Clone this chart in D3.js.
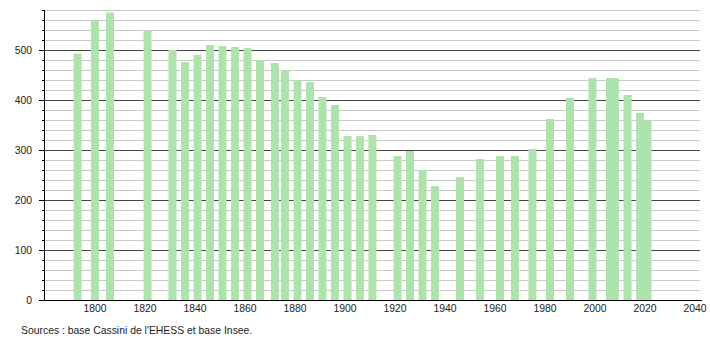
<!DOCTYPE html>
<html>
<head>
<meta charset="utf-8">
<script src="https://cdn.jsdelivr.net/npm/d3@7"></script>
<style>
  body { margin: 0; background: #fff; }
  svg text { font-family: "Liberation Sans", Arial, sans-serif; font-size: 10.4px; fill: #222; }
</style>
</head>
<body>
<svg id="chart"></svg>
<script>
// Population data
const years = [1793, 1800, 1806, 1821, 1831, 1836, 1841, 1846, 1851, 1856,
  1861, 1866, 1872, 1876, 1881, 1886, 1891, 1896, 1901, 1906,
  1911, 1921, 1926, 1931, 1936, 1946, 1954, 1962, 1968, 1975,
  1982, 1990, 1999, 2006, 2008, 2013, 2018, 2021];
const population = [493, 559, 575, 539, 500, 476, 490, 510, 508, 506,
  504, 479, 474, 459, 439, 436, 406, 390, 328, 328,
  330, 288, 298, 260, 228, 246, 282, 288, 288, 302,
  362, 404, 444, 444, 444, 410, 374, 360];
const xTicks = [1800, 1820, 1840, 1860, 1880, 1900, 1920, 1940, 1960, 1980, 2000, 2020, 2040];
const yTicks = [0, 100, 200, 300, 400, 500];
const sourceText = "Sources : base Cassini de l'EHESS et base Insee.";

const width = 710, height = 340;
const margin = {top: 10, right: 10, bottom: 40, left: 45};
const plotW = width - margin.left - margin.right;
const plotH = height - margin.top - margin.bottom;

const svg = d3.select('#chart')
    .attr('width', width)
    .attr('height', height);

const xScale = d3.scaleLinear()
    .domain([1780, 2042])
    .range([0, plotW]);

const yScale = d3.scaleLinear()
    .domain([0, 580])
    .range([plotH, 0]);

const chart = svg.append('g')
    .attr('transform', `translate(${margin.left},${margin.top})`);

// Minor grid lines every 20
const minor = d3.range(20, 581, 20).filter(v => v % 100 !== 0);
chart.append('g').selectAll('line')
    .data(minor)
  .join('line')
    .attr('x1', 0)
    .attr('x2', plotW)
    .attr('y1', d => Math.round(yScale(d)) + 0.5)
    .attr('y2', d => Math.round(yScale(d)) + 0.5)
    .attr('stroke', '#c8c8c8')
    .attr('stroke-width', 1);

// Major grid lines every 100
chart.append('g').selectAll('line')
    .data(yTicks.filter(v => v > 0))
  .join('line')
    .attr('x1', 0)
    .attr('x2', plotW)
    .attr('y1', d => Math.round(yScale(d)) + 0.5)
    .attr('y2', d => Math.round(yScale(d)) + 0.5)
    .attr('stroke', '#444')
    .attr('stroke-width', 1);

// Bars
const barW = 8;
chart.append('g').selectAll('rect')
    .data(years.map((y, i) => ({year: y, value: population[i]})))
  .join('rect')
    .attr('x', d => xScale(d.year) - barW / 2)
    .attr('y', d => yScale(d.value))
    .attr('width', barW)
    .attr('height', d => plotH - yScale(d.value))
    .attr('fill', '#aee3ae');

// Y axis: major ticks with labels, minor ticks
const yAxisG = chart.append('g');
yAxisG.append('line')
    .attr('x1', -0.5).attr('x2', -0.5)
    .attr('y1', 0).attr('y2', plotH)
    .attr('stroke', '#000');
yAxisG.selectAll('.minor-tick')
    .data(minor)
  .join('line')
    .attr('class', 'minor-tick')
    .attr('x1', -3).attr('x2', 0)
    .attr('y1', d => Math.round(yScale(d)) + 0.5)
    .attr('y2', d => Math.round(yScale(d)) + 0.5)
    .attr('stroke', '#000');
yAxisG.selectAll('.major-tick')
    .data(yTicks)
  .join('line')
    .attr('class', 'major-tick')
    .attr('x1', -6).attr('x2', 0)
    .attr('y1', d => Math.round(yScale(d)) + 0.5)
    .attr('y2', d => Math.round(yScale(d)) + 0.5)
    .attr('stroke', '#000');
yAxisG.selectAll('text')
    .data(yTicks)
  .join('text')
    .attr('x', -13)
    .attr('y', d => yScale(d))
    .attr('dy', '0.35em')
    .attr('text-anchor', 'end')
    .text(d => d);

// X axis baseline and labels
const xAxisG = chart.append('g')
    .attr('transform', `translate(0,${plotH})`);
xAxisG.append('line')
    .attr('x1', -3).attr('x2', plotW + 2)
    .attr('y1', 0.5).attr('y2', 0.5)
    .attr('stroke', '#000');
xAxisG.selectAll('text')
    .data(xTicks)
  .join('text')
    .attr('x', d => xScale(d))
    .attr('y', 8)
    .attr('dy', '0.35em')
    .attr('text-anchor', 'middle')
    .text(d => d);

// Source note
svg.append('text')
    .attr('x', 21)
    .attr('y', 330)
    .attr('dy', '0.35em')
    .text(sourceText);
</script>
</body>
</html>
